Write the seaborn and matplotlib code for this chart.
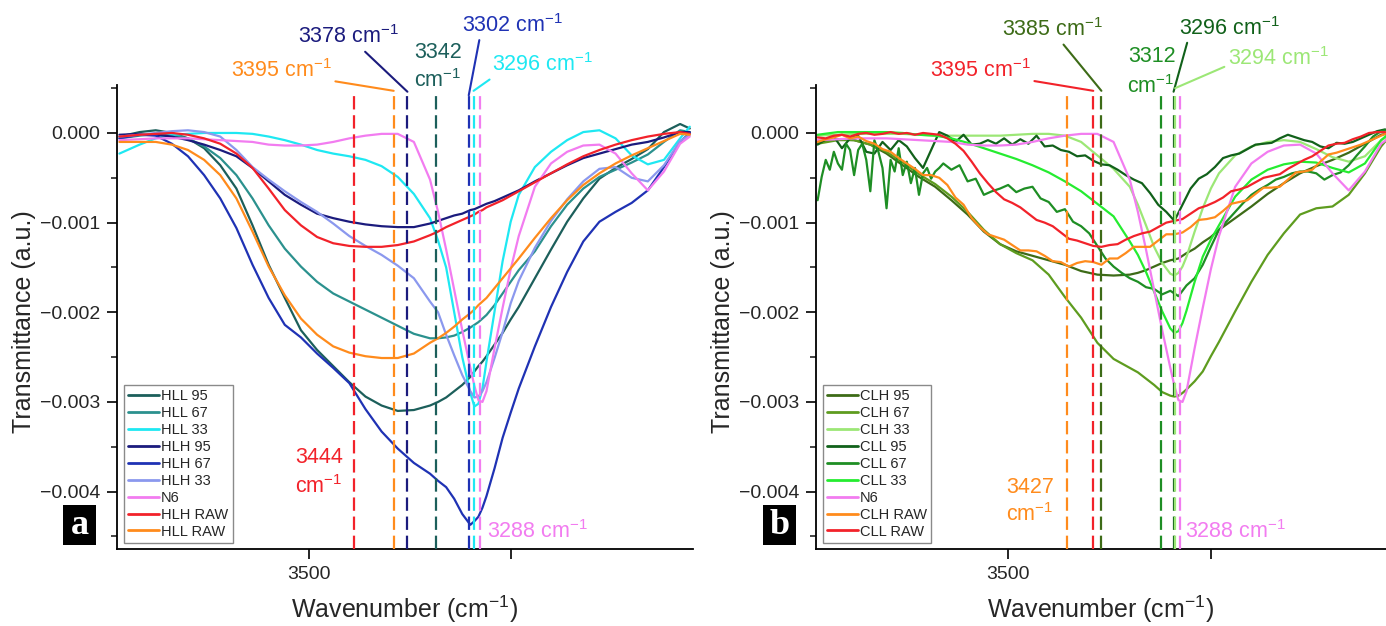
import numpy as np
import pandas as pd
import matplotlib
matplotlib.use("Agg")
import matplotlib.pyplot as plt
import seaborn as sns
from matplotlib.lines import Line2D
from matplotlib.patches import Rectangle
from matplotlib.ticker import FixedLocator, FuncFormatter

sns.set_style("ticks")
plt.rcParams["font.family"] = ["Liberation Sans", "DejaVu Sans"]
plt.rcParams["mathtext.fontset"] = "custom"
plt.rcParams["mathtext.rm"] = "Liberation Sans"
plt.rcParams["mathtext.it"] = "Liberation Sans:italic"
plt.rcParams["mathtext.bf"] = "Liberation Sans:bold"
plt.rcParams["mathtext.default"] = "regular"

# ---------------- data (transmittance in units of 1e-3 a.u.) ----------------
WN_A = [3735, 3710, 3690, 3670, 3650, 3630, 3610, 3590, 3570, 3550, 3530, 3510,
        3490, 3470, 3450, 3430, 3410, 3390, 3370, 3350, 3340, 3330, 3320, 3310,
        3300, 3295, 3290, 3285, 3280, 3270, 3260, 3250, 3240, 3220, 3200, 3180,
        3160, 3140, 3120, 3100, 3080, 3060, 3040, 3028]

HLL95 = [-0.04, 0.01, 0.03, 0.00, -0.06, -0.17, -0.36, -0.62, -1.03, -1.47, -1.84, -2.20,
         -2.42, -2.60, -2.78, -2.94, -3.04, -3.10, -3.09, -3.04, -3.00, -2.95, -2.88, -2.81,
         -2.72, -2.66, -2.60, -2.55, -2.49, -2.36, -2.23, -2.08, -1.94, -1.62, -1.30, -0.99,
         -0.73, -0.51, -0.39, -0.29, -0.18, 0.01, 0.10, 0.05]
HLL67 = [-0.06, -0.03, -0.01, -0.02, -0.06, -0.15, -0.28, -0.47, -0.73, -1.03, -1.29, -1.49,
         -1.66, -1.79, -1.88, -1.97, -2.06, -2.15, -2.24, -2.29, -2.29, -2.28, -2.26, -2.22,
         -2.17, -2.14, -2.11, -2.07, -2.03, -1.92, -1.79, -1.66, -1.53, -1.32, -1.04, -0.80,
         -0.62, -0.49, -0.41, -0.33, -0.24, -0.10, 0.03, 0.01]
HLL33 = [-0.23, -0.13, -0.06, -0.02, -0.01, 0.00, 0.00, 0.00, -0.01, -0.04, -0.08, -0.13,
         -0.19, -0.23, -0.26, -0.30, -0.37, -0.49, -0.68, -0.95, -1.20, -1.50, -2.00, -2.50,
         -2.90, -3.05, -3.02, -2.85, -2.55, -1.99, -1.43, -0.99, -0.69, -0.38, -0.21, -0.08,
         0.01, 0.03, -0.06, -0.25, -0.35, -0.30, -0.06, 0.07]
HLH95 = [-0.02, -0.01, -0.02, -0.04, -0.08, -0.13, -0.19, -0.26, -0.39, -0.54, -0.69, -0.80,
         -0.90, -0.95, -0.99, -1.02, -1.04, -1.05, -1.05, -1.01, -0.98, -0.95, -0.92, -0.90,
         -0.86, -0.85, -0.83, -0.81, -0.79, -0.76, -0.72, -0.68, -0.64, -0.54, -0.45, -0.36,
         -0.28, -0.23, -0.18, -0.13, -0.10, -0.05, 0.01, 0.01]
HLH67 = [-0.06, -0.02, -0.03, -0.12, -0.26, -0.47, -0.73, -1.06, -1.47, -1.84, -2.14, -2.28,
         -2.46, -2.62, -2.79, -3.08, -3.33, -3.52, -3.68, -3.80, -3.88, -3.95, -4.08, -4.25,
         -4.37, -4.33, -4.28, -4.18, -4.05, -3.74, -3.40, -3.12, -2.85, -2.38, -1.94, -1.55,
         -1.21, -0.99, -0.88, -0.78, -0.64, -0.38, -0.10, 0.00]
HLH33 = [-0.04, -0.02, 0.00, 0.02, 0.03, 0.01, -0.04, -0.19, -0.38, -0.52, -0.65, -0.77,
         -0.88, -1.01, -1.15, -1.26, -1.36, -1.48, -1.62, -1.88, -2.00, -2.25, -2.48, -2.70,
         -2.88, -2.95, -2.94, -2.88, -2.78, -2.51, -2.22, -1.90, -1.65, -1.28, -0.98, -0.74,
         -0.54, -0.40, -0.38, -0.50, -0.54, -0.36, -0.09, -0.02]
N6 = [-0.08, -0.07, -0.06, -0.06, -0.06, -0.07, -0.08, -0.09, -0.10, -0.13, -0.14, -0.14,
      -0.13, -0.10, -0.06, -0.03, -0.01, -0.01, -0.10, -0.52, -0.88, -1.30, -1.75, -2.20,
      -2.62, -2.82, -2.98, -3.00, -2.88, -2.40, -1.95, -1.52, -1.15, -0.60, -0.34, -0.21,
      -0.14, -0.13, -0.23, -0.45, -0.64, -0.43, -0.12, -0.04]
HLH_RAW = [-0.04, -0.02, -0.01, 0.00, -0.02, -0.06, -0.12, -0.23, -0.39, -0.62, -0.86, -1.03,
           -1.16, -1.23, -1.26, -1.27, -1.27, -1.25, -1.21, -1.14, -1.10, -1.05, -1.01, -0.97,
           -0.93, -0.91, -0.88, -0.86, -0.83, -0.79, -0.75, -0.70, -0.65, -0.55, -0.45, -0.35,
           -0.26, -0.19, -0.13, -0.08, -0.04, -0.01, 0.01, -0.01]
HLL_RAW = [-0.10, -0.10, -0.10, -0.13, -0.19, -0.30, -0.47, -0.73, -1.10, -1.49, -1.81, -2.07,
           -2.25, -2.38, -2.45, -2.49, -2.51, -2.51, -2.46, -2.34, -2.29, -2.23, -2.16, -2.08,
           -2.01, -1.97, -1.92, -1.88, -1.84, -1.73, -1.62, -1.51, -1.40, -1.17, -0.95, -0.75,
           -0.58, -0.45, -0.34, -0.25, -0.17, -0.09, -0.01, -0.02]

CLH95 = [-0.10, -0.07, -0.08, -0.13, -0.23, -0.36, -0.49, -0.60, -0.75, -0.91, -1.10, -1.24,
         -1.32, -1.37, -1.42, -1.47, -1.54, -1.58, -1.59, -1.58, -1.56, -1.53, -1.49, -1.45,
         -1.42, -1.41, -1.40, -1.37, -1.34, -1.29, -1.22, -1.16, -1.08, -0.95, -0.82, -0.68,
         -0.56, -0.45, -0.37, -0.30, -0.22, -0.12, -0.02, 0.00]
CLH67 = [-0.12, -0.08, -0.08, -0.13, -0.21, -0.33, -0.46, -0.57, -0.71, -0.88, -1.08, -1.24,
         -1.34, -1.42, -1.58, -1.83, -2.06, -2.34, -2.52, -2.62, -2.67, -2.74, -2.81, -2.89,
         -2.93, -2.94, -2.93, -2.90, -2.86, -2.77, -2.66, -2.49, -2.33, -1.99, -1.66, -1.36,
         -1.12, -0.91, -0.84, -0.82, -0.69, -0.45, -0.15, -0.02]
CLH33 = [-0.03, -0.02, -0.01, -0.01, -0.01, -0.01, -0.02, -0.03, -0.03, -0.03, -0.03, -0.03,
         -0.02, -0.01, -0.01, -0.03, -0.10, -0.25, -0.40, -0.60, -0.80, -1.03, -1.27, -1.45,
         -1.57, -1.59, -1.56, -1.49, -1.38, -1.10, -0.84, -0.62, -0.45, -0.25, -0.15, -0.10,
         -0.08, -0.10, -0.18, -0.27, -0.32, -0.26, -0.08, -0.02]
CLL33 = [-0.02, 0.01, 0.01, 0.01, 0.01, 0.00, -0.02, -0.03, -0.06, -0.11, -0.17, -0.23,
         -0.29, -0.36, -0.44, -0.54, -0.65, -0.79, -0.93, -1.21, -1.36, -1.55, -1.77, -1.99,
         -2.18, -2.23, -2.21, -2.12, -1.98, -1.66, -1.38, -1.19, -1.03, -0.71, -0.52, -0.41,
         -0.35, -0.32, -0.33, -0.39, -0.44, -0.34, -0.08, 0.01]

WN_N = [3735, 3725, 3715, 3705, 3695, 3685, 3675, 3665, 3655, 3645,
        3635, 3625, 3615, 3605, 3595, 3585, 3575, 3565, 3555, 3545,
        3535, 3525, 3515, 3505, 3495, 3485, 3475, 3465, 3455, 3445,
        3435, 3425, 3415, 3405, 3395, 3385, 3375, 3365, 3355, 3345,
        3335, 3325, 3315, 3305, 3295, 3285, 3275, 3265, 3255, 3245,
        3235, 3225, 3215, 3205, 3195, 3185, 3175, 3165, 3155, 3145,
        3135, 3125, 3115, 3105, 3095, 3085, 3075, 3065, 3055, 3045, 3035]

CLL_RAW = [-0.05, -0.06, -0.03, -0.02, -0.04, -0.01, 0.00, -0.02, -0.01, 0.01,
           -0.01, 0.00, -0.02, 0.00, -0.01, -0.02, -0.06, -0.12, -0.20, -0.32,
           -0.45, -0.56, -0.66, -0.74, -0.78, -0.83, -0.90, -0.97, -1.00, -1.04,
           -1.11, -1.18, -1.20, -1.23, -1.26, -1.27, -1.25, -1.24, -1.19, -1.15,
           -1.12, -1.10, -1.05, -1.00, -0.98, -0.96, -0.90, -0.84, -0.81, -0.77,
           -0.72, -0.65, -0.63, -0.60, -0.55, -0.50, -0.48, -0.46, -0.40, -0.35,
           -0.30, -0.26, -0.20, -0.14, -0.12, -0.11, -0.07, -0.04, 0.00, 0.01, 0.01]
CLH_RAW = [-0.10, -0.07, -0.05, -0.02, -0.06, -0.04, -0.09, -0.12, -0.18, -0.21,
           -0.28, -0.34, -0.40, -0.47, -0.47, -0.50, -0.58, -0.72, -0.80, -0.95,
           -1.05, -1.13, -1.16, -1.19, -1.25, -1.31, -1.31, -1.32, -1.37, -1.43,
           -1.44, -1.49, -1.45, -1.43, -1.44, -1.47, -1.40, -1.40, -1.34, -1.27,
           -1.27, -1.27, -1.20, -1.13, -1.13, -1.11, -1.05, -0.97, -0.96, -0.94,
           -0.87, -0.79, -0.77, -0.75, -0.68, -0.61, -0.61, -0.60, -0.52, -0.44,
           -0.43, -0.41, -0.32, -0.24, -0.22, -0.19, -0.16, -0.13, -0.09, -0.05, -0.01]
CLL95 = [-0.13, -0.07, -0.04, -0.17, -0.06, -0.03, -0.21, -0.23, -0.10, -0.19,
         -0.08, -0.15, -0.28, -0.39, -0.19, 0.01, -0.03, -0.10, -0.02, -0.13,
         -0.12, -0.08, -0.12, -0.06, -0.13, -0.07, -0.12, -0.03, -0.15, -0.14,
         -0.19, -0.21, -0.26, -0.25, -0.31, -0.35, -0.36, -0.41, -0.47, -0.52,
         -0.56, -0.67, -0.80, -0.88, -0.98, -0.80, -0.62, -0.51, -0.46, -0.38,
         -0.28, -0.25, -0.23, -0.18, -0.13, -0.12, -0.11, -0.06, -0.02, -0.05,
         -0.08, -0.10, -0.15, -0.17, -0.11, -0.12, -0.10, -0.06, -0.02, 0.02, 0.04]

WN_CLL67 = [3735, 3730, 3725, 3720, 3715, 3710, 3705, 3700, 3695, 3690, 3685, 3680,
            3675, 3670, 3665, 3660, 3655, 3650, 3645, 3640, 3635, 3630, 3625, 3620,
            3615, 3610, 3605, 3600, 3595, 3590, 3585, 3580,
            3570, 3560, 3550, 3540, 3530, 3520, 3510, 3500, 3490, 3480,
            3470, 3460, 3450, 3440, 3430, 3420, 3410, 3400, 3390, 3380,
            3370, 3360, 3350, 3340, 3330, 3320, 3310, 3300, 3290, 3280,
            3270, 3260, 3250, 3240, 3230, 3220, 3210, 3200, 3190, 3180,
            3170, 3160, 3150, 3140, 3130, 3120, 3110, 3100, 3090, 3080,
            3070, 3060, 3050, 3040, 3035]
CLL67 = [-0.75, -0.49, -0.30, -0.41, -0.21, -0.34, -0.41, -0.12, -0.19, -0.47, -0.19, -0.12,
         -0.30, -0.65, -0.08, -0.21, -0.39, -0.84, -0.30, -0.43, -0.17, -0.47, -0.32, -0.56,
         -0.39, -0.69, -0.45, -0.39, -0.51, -0.43, -0.39, -0.34,
         -0.41, -0.36, -0.54, -0.51, -0.69, -0.65, -0.62, -0.58, -0.66, -0.62,
         -0.60, -0.73, -0.77, -0.88, -0.85, -0.99, -1.04, -1.12, -1.26, -1.40,
         -1.49, -1.56, -1.62, -1.66, -1.72, -1.74, -1.80, -1.76, -1.82, -1.70,
         -1.62, -1.47, -1.27, -1.08, -0.98, -0.88, -0.78, -0.69, -0.63, -0.58,
         -0.52, -0.49, -0.45, -0.43, -0.43, -0.45, -0.52, -0.47, -0.44, -0.36,
         -0.25, -0.15, -0.04, 0.02, 0.03]

NAMES_A = ["HLL 95", "HLL 67", "HLL 33", "HLH 95", "HLH 67", "HLH 33", "N6", "HLH RAW", "HLL RAW"]
SERIES_A = {"HLL 95": (WN_A, HLL95), "HLL 67": (WN_A, HLL67), "HLL 33": (WN_A, HLL33),
            "HLH 95": (WN_A, HLH95), "HLH 67": (WN_A, HLH67), "HLH 33": (WN_A, HLH33),
            "N6": (WN_A, N6), "HLH RAW": (WN_A, HLH_RAW), "HLL RAW": (WN_A, HLL_RAW)}
NAMES_B = ["CLH 95", "CLH 67", "CLH 33", "CLL 95", "CLL 67", "CLL 33", "N6", "CLH RAW", "CLL RAW"]
SERIES_B = {"CLH 95": (WN_A, CLH95), "CLH 67": (WN_A, CLH67), "CLH 33": (WN_A, CLH33),
            "CLL 95": (WN_N, CLL95), "CLL 67": (WN_CLL67, CLL67), "CLL 33": (WN_A, CLL33),
            "N6": (WN_A, N6), "CLH RAW": (WN_N, CLH_RAW), "CLL RAW": (WN_N, CLL_RAW)}

COL_A = {"HLL 95": "#1c5f5b", "HLL 67": "#2b918e", "HLL 33": "#1ee8f2", "HLH 95": "#1b1b7d",
         "HLH 67": "#1f32b4", "HLH 33": "#8b98ee", "N6": "#f27cf0", "HLH RAW": "#f2222a",
         "HLL RAW": "#ff8b1c"}
COL_B = {"CLH 95": "#3d6b17", "CLH 67": "#5e9c1f", "CLH 33": "#9ce776", "CLL 95": "#11611a",
         "CLL 67": "#1e8e24", "CLL 33": "#25ec30", "N6": "#f27cf0", "CLH RAW": "#ff8b1c",
         "CLL RAW": "#f2222a"}

PEAKS_A = [3444, 3395, 3378, 3342, 3302, 3296, 3288]
PEAK_COL_A = ["#f2222a", "#ff8b1c", "#1b1b7d", "#1c5f5b", "#1f32b4", "#1ee8f2", "#f27cf0"]
PEAKS_B = [3427, 3395, 3385, 3312, 3296, 3294, 3288]
PEAK_COL_B = ["#ff8b1c", "#f2222a", "#3d6b17", "#1e8e24", "#11611a", "#9ce776", "#f27cf0"]

CM = "cm$^{-1}$"
# (label, colour, text wn, text y (1e-3), [line wn, line y (1e-3), relpos])
ANN_A = [("3378 " + CM, "#1b1b7d", 3451, 1.07, 3378, 0.46, (0.63, 0.0)),
         ("3395 " + CM, "#ff8b1c", 3534, 0.70, 3395, 0.47, (0.91, 0.1)),
         ("3342", "#1c5f5b", 3340, 0.90),
         (CM, "#1c5f5b", 3340, 0.59),
         ("3302 " + CM, "#1f32b4", 3248, 1.20, 3302, 0.42, (0.18, 0.0)),
         ("3296 " + CM, "#1ee8f2", 3210, 0.76, 3296, 0.47, (0.05, 0.1)),
         ("3444", "#f2222a", 3488, -3.62),
         (CM, "#f2222a", 3488, -3.94),
         ("3288 " + CM, "#f27cf0", 3217, -4.44)]
ANN_B = [("3385 " + CM, "#3d6b17", 3445, 1.15, 3385, 0.47, (0.58, 0.0)),
         ("3395 " + CM, "#f2222a", 3534, 0.70, 3395, 0.47, (0.93, 0.1)),
         ("3312", "#1e8e24", 3323, 0.85),
         (CM, "#1e8e24", 3324, 0.52),
         ("3296 " + CM, "#11611a", 3227, 1.17, 3296, 0.46, (0.09, 0.0)),
         ("3294 " + CM, "#9ce776", 3167, 0.83, 3294, 0.50, (0.0, 0.2)),
         ("3427", "#ff8b1c", 3473, -3.95),
         (CM, "#ff8b1c", 3473, -4.26),
         ("3288 " + CM, "#f27cf0", 3219, -4.44)]

YLIM = (-0.00464, 0.000535)
DASH_TOP = 0.00047
ANN_FS = 15.5


def long_frame(series):
    parts = []
    for name, (wn, vals) in series.items():
        parts.append(pd.DataFrame({"wn": wn, "T": np.asarray(vals) * 1e-3, "series": name}))
    return pd.concat(parts, ignore_index=True)


def yfmt(v, pos):
    if abs(v) < 1e-12:
        return "0.000"
    return f"{v:.3f}".replace("-", "\u2212")


fig = plt.figure(figsize=(13.86, 6.26), dpi=100)
W, H = 1386.0, 626.0
ax_a = fig.add_axes([117 / W, 1 - 549 / H, 576 / W, 464 / H])
ax_b = fig.add_axes([816 / W, 1 - 549 / H, 570 / W, 464 / H])

panels = [(ax_a, SERIES_A, NAMES_A, COL_A, PEAKS_A, PEAK_COL_A, ANN_A, (3738, 3024), "a", 63),
          (ax_b, SERIES_B, NAMES_B, COL_B, PEAKS_B, PEAK_COL_B, ANN_B, (3737, 3034), "b", 763)]

for ax, series, names, cols, peaks, pcols, anns, xlim, tag, tagx in panels:
    df = long_frame(series)
    sns.lineplot(data=df, x="wn", y="T", hue="series", hue_order=names, palette=cols,
                 estimator=None, sort=False, linewidth=1.6, legend=False, ax=ax)
    ax.vlines(peaks, YLIM[0], DASH_TOP, colors=pcols, linestyles=(0, (6, 2.6)),
              linewidth=1.6, zorder=3)
    ax.set_xlim(*xlim)
    ax.set_ylim(*YLIM)
    ax.set_yticks([0, -0.001, -0.002, -0.003, -0.004])
    ax.yaxis.set_minor_locator(FixedLocator([0.0005, -0.0005, -0.0015, -0.0025, -0.0035, -0.0045]))
    ax.yaxis.set_major_formatter(FuncFormatter(yfmt))
    ax.set_xticks([3500, 3250])
    ax.set_xticklabels(["3500", ""])
    ax.tick_params(axis="both", which="major", direction="out", length=7, width=1.2,
                   labelsize=14, pad=5, color="black")
    ax.tick_params(axis="y", which="minor", direction="out", length=4, width=1.2)
    for s in ["top", "right"]:
        ax.spines[s].set_visible(False)
    for s in ["left", "bottom"]:
        ax.spines[s].set_linewidth(1.3)
        ax.spines[s].set_color("black")
    ax.set_xlabel("Wavenumber (" + CM + ")", fontsize=18, labelpad=8)
    ax.set_ylabel("Transmittance (a.u.)", fontsize=18)
    ax.yaxis.set_label_coords(-81 / (ax.get_position().width * W), 0.49)

    handles = [Line2D([], [], color=cols[n], lw=2.0) for n in names]
    leg = ax.legend(handles, names, loc="lower left", bbox_to_anchor=(0.012, 0.013),
                    borderaxespad=0, fontsize=10.5, handlelength=2.1, handletextpad=0.15,
                    labelspacing=0.2, borderpad=0.3, fancybox=False, framealpha=1,
                    edgecolor="#8a8a8a")
    leg.get_frame().set_linewidth(1.0)

    for it in anns:
        label, color, tx, ty = it[:4]
        if len(it) > 4:
            lx, ly, rel = it[4:]
            ax.annotate(label, xy=(lx, ly * 1e-3), xytext=(tx, ty * 1e-3), textcoords="data",
                        ha="center", va="center", color=color, fontsize=ANN_FS,
                        annotation_clip=False,
                        arrowprops=dict(arrowstyle="-", color=color, lw=1.5,
                                        shrinkA=0, shrinkB=0, relpos=rel))
        else:
            ax.text(tx, ty * 1e-3, label, ha="center", va="center", color=color,
                    fontsize=ANN_FS, clip_on=False)

    fig.add_artist(Rectangle((tagx / W, 1 - 545 / H), 33 / W, 40 / H,
                             transform=fig.transFigure, facecolor="black", edgecolor="none"))
    fig.text((tagx + 16.5) / W, 1 - 526 / H, tag, color="white", fontsize=26,
             fontweight="bold", family="Liberation Serif", ha="center", va="center")

fig.savefig("out.png", dpi=100)
